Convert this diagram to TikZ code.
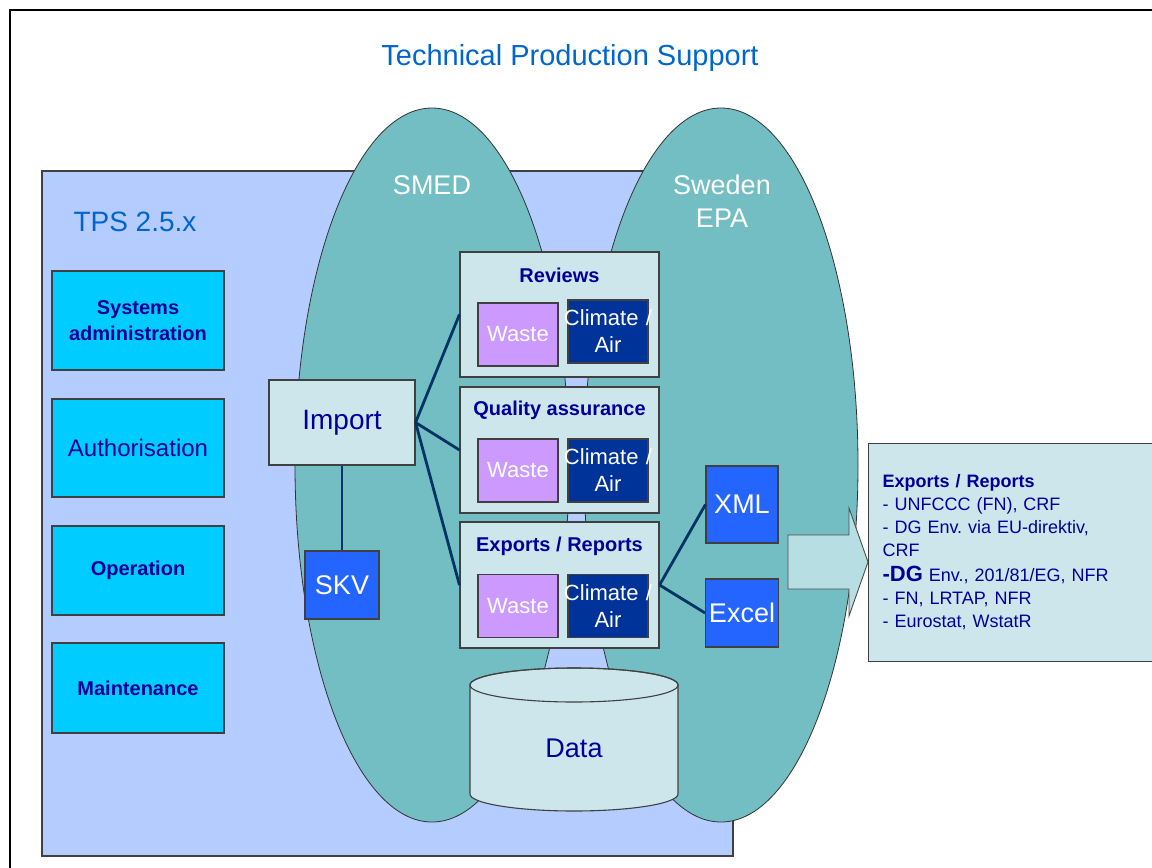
\documentclass[tikz,border=0pt]{standalone}
\usepackage{fontspec}
\setmainfont{Liberation Sans}
\usetikzlibrary{shapes.geometric}
\frenchspacing

\definecolor{tpsback}{RGB}{180,204,255}
\definecolor{orgteal}{RGB}{115,190,195}
\definecolor{paleblue}{RGB}{205,230,235}
\definecolor{skyblue}{RGB}{0,204,255}
\definecolor{navytext}{RGB}{0,0,153}
\definecolor{wastepink}{RGB}{204,153,255}
\definecolor{climateblue}{RGB}{0,51,153}
\definecolor{filesblue}{RGB}{36,100,255}
\definecolor{linkblue}{RGB}{0,51,102}
\definecolor{titleblue}{RGB}{0,102,204}
\definecolor{arrowfill}{RGB}{183,222,226}

\newcommand{\climatetext}{\makebox[\linewidth]{Climate /}\\Air}

\begin{document}
\begin{tikzpicture}[x=1pt,y=-1pt,
    box/.style={draw=black!75,line width=1.1pt},
    taskbox/.style={box,fill=skyblue,text=navytext,minimum width=172pt,align=center,
        font=\fontsize{20}{26}\selectfont\bfseries},
    stagebox/.style={box,fill=paleblue,minimum width=199pt},
    stagetitle/.style={text=navytext,inner sep=0pt,font=\fontsize{20}{24}\selectfont\bfseries},
    sector/.style={box,text=white,inner sep=0pt,text width=80pt,minimum height=63pt,align=center,
        font=\fontsize{22}{27}\selectfont},
    filebox/.style={box,fill=filesblue,text=white,font=\fontsize{27}{30}\selectfont},
    org/.style={ellipse,draw=black!80,line width=0.8pt,fill=orgteal,inner sep=0pt,
        minimum width=274pt,minimum height=714pt},
    orglabel/.style={text=white,align=center,font=\fontsize{27}{33}\selectfont},
    link/.style={draw=linkblue,line width=2.8pt}]
\useasboundingbox (0,0) rectangle (1152,868);

% frame and title
\draw[line width=1.6pt] (10,880) -- (10,10) -- (1170,10) -- (1170,880);
\node[text=titleblue,font=\fontsize{29}{32}\selectfont] (title) at (570,58) {Technical Production Support};

% TPS area
\node[box,fill=tpsback,minimum width=691pt,minimum height=685pt] (tps) at (387.5,513.5) {};
\node[text=titleblue,font=\fontsize{28}{32}\selectfont] (tpslabel) at (135,222) {TPS 2.5.x};

\node[taskbox,minimum height=99pt] (sysadm) at (138,320.5) {Systems\\administration};
\node[taskbox,minimum height=98pt,font=\fontsize{24}{28}\selectfont] (auth) at (138,448) {Authorisation};
\node[taskbox,minimum height=89pt] (oper) at (138,570.5) {Operation};
\node[taskbox,minimum height=90pt] (maint) at (138,688) {Maintenance};

% SMED and Sweden EPA
\node[org] (smed) at (432,465) {};
\node[org] (epa) at (721,465) {};
\node[orglabel] (smedlabel) at (432,185) {SMED};
\node[orglabel] (epalabel) at (722,201.5) {Sweden\\EPA};

% import
\node[box,fill=paleblue,text=navytext,minimum width=146pt,minimum height=85pt,
    font=\fontsize{28}{32}\selectfont] (import) at (342,422.5) {Import};
\node[filebox,minimum width=74pt,minimum height=68pt] (skv) at (342,585) {SKV};

% stages
\node[stagebox,minimum height=125pt] (reviews) at (559.5,314.5) {};
\node[stagebox,minimum height=126pt] (qa) at (559.5,450) {};
\node[stagebox,minimum height=126pt] (exports) at (559.5,585) {};

\node[stagetitle,anchor=base] (reviewsttl) at ([yshift=-31pt]reviews.north) {Reviews};
\node[stagetitle,anchor=base] (qattl) at ([yshift=-29pt]qa.north) {Quality assurance};
\node[stagetitle,anchor=base] (exportsttl) at ([yshift=-30pt]exports.north) {Exports / Reports};

\node[sector,fill=wastepink] (rwaste) at (518,334.5) {Waste};
\node[sector,fill=climateblue] (rclimate) at (608,331.5) {\climatetext};
\node[sector,fill=wastepink] (qwaste) at (518,470.5) {Waste};
\node[sector,fill=climateblue] (qclimate) at (608,470.5) {\climatetext};
\node[sector,fill=wastepink] (ewaste) at (518,606) {Waste};
\node[sector,fill=climateblue] (eclimate) at (608,606) {\climatetext};

% data store
\draw[box,fill=paleblue] (470,685) -- (470,794) arc[start angle=180,end angle=360,x radius=104pt,y radius=17pt]
    -- (678,685) arc[start angle=0,end angle=180,x radius=104pt,y radius=17pt] -- cycle;
\draw[box] (574,685) ellipse[x radius=104pt,y radius=17pt];
\node[text=navytext,font=\fontsize{27}{30}\selectfont] (data) at (574,748) {Data};

% output files
\node[filebox,minimum width=72pt,minimum height=77pt] (xml) at (742,504.5) {XML};
\node[filebox,minimum width=72pt,minimum height=68pt] (excel) at (742,613) {Excel};

% links
\draw[link] (import.south) -- (skv.north);
\draw[link] (import.east) -- (reviews.west);
\draw[link] (import.east) -- (qa.west);
\draw[link] (import.east) -- (exports.west);
\draw[link] (exports.east) -- (xml.west);
\draw[link] (exports.east) -- (excel.west);

% block arrow and report list
\draw[draw=black!70,line width=0.9pt,fill=arrowfill] (788,535) -- (849,535) -- (849,508) -- (868,562)
    -- (849,616) -- (849,589) -- (788,589) -- cycle;
\node[box,fill=paleblue,anchor=north west,text width=272pt,inner xsep=14pt,minimum height=218pt,
    align=left,text=navytext,font=\fontsize{18}{23}\selectfont] (reports) at (868,443)
    {\textbf{Exports / Reports}\\
     - UNFCCC (FN), CRF\\
     - DG Env. via EU-direktiv,\\
     CRF\\[2pt]
     {\fontsize{22}{23}\selectfont\textbf{-DG}} Env., 201/81/EG, NFR\\
     - FN, LRTAP, NFR\\
     - Eurostat, WstatR};
\end{tikzpicture}
\end{document}
